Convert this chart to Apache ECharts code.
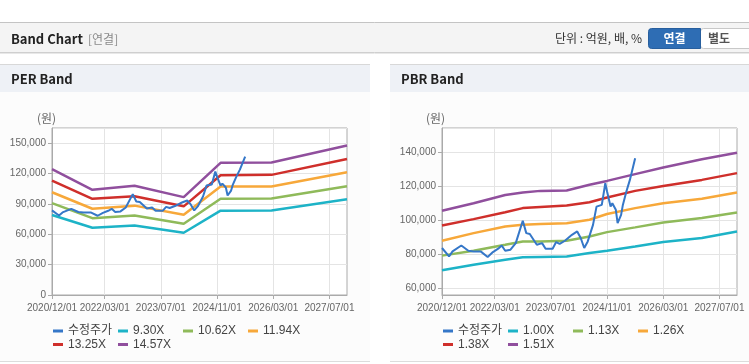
<!DOCTYPE html>
<html><head><meta charset="utf-8">
<script src="https://cdn.jsdelivr.net/npm/echarts@6/dist/echarts.min.js"></script>
<style>html,body{margin:0;padding:0;background:#fff}#c{width:749px;height:364px}</style>
</head><body><div id="c"></div>
<script>
// ---- categories (half-monthly dates, 2020/12/01 .. 2027/12/01)
const dates = [];
for (let i = 0; i < 169; i++) {
  const total = 2020 * 12 + 11 + Math.floor(i / 2);
  const y = Math.floor(total / 12), mo = total % 12 + 1;
  dates.push(y + '/' + String(mo).padStart(2, '0') + '/' + (i % 2 ? '16' : '01'));
}
const xLabelDates = ['2020/12/01','2022/03/01','2023/07/01','2024/11/01','2026/03/01','2027/07/01'];

// ---- adjusted price (수정주가)
const priceDates = ['2020/12/01','2021/02/01','2021/03/01','2021/05/16','2021/07/16','2021/09/01','2021/11/01',
  '2022/01/01','2022/02/16','2022/04/01','2022/05/01','2022/06/01','2022/07/16','2022/09/01','2022/11/01',
  '2022/12/01','2023/01/01','2023/03/01','2023/04/16','2023/05/16','2023/07/16','2023/08/16','2023/09/16',
  '2023/11/01','2024/01/01','2024/02/16','2024/03/16','2024/04/16','2024/05/16','2024/07/01','2024/08/01',
  '2024/09/16','2024/10/01','2024/10/16','2024/11/01','2024/12/01','2024/12/16','2025/01/16','2025/02/01',
  '2025/03/01','2025/03/16','2025/04/16','2025/05/16','2025/07/01'];
const priceValues = [83600,78600,81600,85100,82000,81600,81600,
  78300,81200,83200,85100,82000,82600,86500,99700,
  92400,91900,85500,86500,83200,83200,87100,86000,
  87900,91400,93400,89500,83600,87500,97300,108100,
  109100,109600,121900,117000,108100,110100,106200,98300,
  103200,109100,117000,123900,136700];

// ---- PER band
const perNames = ['9.30X','10.62X','11.94X','13.25X','14.57X'];
const perDates = ['2020/12/01','2021/11/16','2022/11/16','2024/01/16','2024/12/01','2026/02/16','2027/12/01'];
const per930  = [79000, 66500, 68700, 61500, 83300, 83500, 94500];
const per1062 = [90700, 75900, 78600, 70400, 95100, 95300, 107500];
const per1194 = [101500, 85200, 88300, 79200, 107100, 107300, 121300];
const per1325 = [113100, 95000, 97600, 87600, 118300, 118700, 134300];
const per1457 = [124300, 103900, 107900, 96700, 130600, 130900, 147800];

// ---- PBR band
const pbrNames = ['1.00X','1.13X','1.26X','1.38X','1.51X'];
const pbrDates = ['2020/12/01','2021/09/01','2022/06/01','2022/11/01','2023/04/01','2023/11/16',
  '2024/06/01','2024/11/01','2025/07/01','2026/03/01','2027/02/01','2027/12/01'];
const pbr100 = [70400, 73700, 76700, 78100, 78300, 78600, 80600, 82000, 84500, 87100, 89500, 93400];
const pbr113 = [79100, 82000, 85500, 87500, 87500, 87900, 90400, 93000, 95800, 98700, 101300, 104600];
const pbr126 = [87900, 92400, 96300, 97300, 97800, 98300, 100300, 103700, 107200, 110100, 112700, 116400];
const pbr138 = [96900, 100700, 104800, 107200, 107800, 108700, 110700, 113500, 117400, 120300, 123900, 127900];
const pbr151 = [105600, 110100, 115000, 116400, 117400, 117600, 121000, 123300, 127300, 131200, 136100, 140000];

const bandColors = ['#1db3c7','#8fba5a','#f7a83a','#cf2f2b','#904f9d'];
const priceColor = '#3577c8';
const FONT = '"Liberation Sans","Noto Sans CJK KR",sans-serif';
const KFONT = '"Noto Sans CJK KR","Liberation Sans",sans-serif';

const labelIdx = new Set(xLabelDates.map(d => dates.indexOf(d)));
const showIdx = (i) => labelIdx.has(i);
const pair = (ds, vs) => ds.map((d, i) => [d, vs[i]]);

function xAxis(gi) {
  return {
    type: 'category', gridIndex: gi, data: dates, boundaryGap: false,
    axisLine: { lineStyle: { color: '#aaa' } },
    axisTick: { show: true, interval: showIdx, length: 4, lineStyle: { color: '#aaa' } },
    axisLabel: { interval: showIdx, color: '#666', fontSize: 10, fontFamily: FONT, margin: 8, hideOverlap: false },
    splitLine: { show: true, interval: showIdx, lineStyle: { color: '#e4e4e4' } }
  };
}
function yAxis(gi, extra) {
  return Object.assign({
    type: 'value', gridIndex: gi,
    axisLine: { show: true, lineStyle: { color: '#aaa' } },
    axisTick: { show: true, length: 4, lineStyle: { color: '#aaa' } },
    axisLabel: { color: '#666', fontSize: 10, fontFamily: FONT, margin: 6, showMaxLabel: false },
    splitLine: { show: true, lineStyle: { color: '#e4e4e4' } }
  }, extra);
}

const series = [];
const perVals = [per930, per1062, per1194, per1325, per1457];
const pbrVals = [pbr100, pbr113, pbr126, pbr138, pbr151];
perNames.forEach((n, i) => series.push({ name: n, type: 'line', xAxisIndex: 0, yAxisIndex: 0,
  data: pair(perDates, perVals[i]), symbol: 'none', lineStyle: { width: 2.5, color: bandColors[i] }, itemStyle: { color: bandColors[i] } }));
series.push({ name: '수정주가', type: 'line', xAxisIndex: 0, yAxisIndex: 0, z: 5,
  data: pair(priceDates, priceValues), symbol: 'none', lineStyle: { width: 2, color: priceColor }, itemStyle: { color: priceColor } });
pbrNames.forEach((n, i) => series.push({ name: n, type: 'line', xAxisIndex: 1, yAxisIndex: 1,
  data: pair(pbrDates, pbrVals[i]), symbol: 'none', lineStyle: { width: 2.5, color: bandColors[i] }, itemStyle: { color: bandColors[i] } }));
series.push({ name: '수정주가', type: 'line', xAxisIndex: 1, yAxisIndex: 1, z: 5,
  data: pair(priceDates, priceValues), symbol: 'none', lineStyle: { width: 2, color: priceColor }, itemStyle: { color: priceColor } });

// legends: fixed grid of positions
function legendsFor(x0, names) {
  const all = ['수정주가'].concat(names);
  return all.map((n, i) => ({
    data: [{ name: n, icon: 'rect' }], selectedMode: false, padding: 0, itemGap: 0,
    itemWidth: 10, itemHeight: 3,
    left: x0 + (i % 4) * 65, top: 325 + Math.floor(i / 4) * 13.5,
    textStyle: { fontSize: 12, color: '#444', fontFamily: FONT }
  }));
}

const graphic = [
  // header bar
  { type: 'rect', shape: { x: 0, y: 22, width: 749, height: 31 }, style: { fill: '#f4f4f4' }, z: -10 },
  { type: 'line', shape: { x1: 0, y1: 22.5, x2: 749, y2: 22.5 }, style: { stroke: '#c4c4c4', lineWidth: 1 }, z: -9 },
  { type: 'line', shape: { x1: 0, y1: 52.5, x2: 749, y2: 52.5 }, style: { stroke: '#cfcfcf', lineWidth: 1 }, z: -9 },
  { type: 'line', shape: { x1: 0, y1: 53.5, x2: 749, y2: 53.5 }, style: { stroke: '#e8e8e8', lineWidth: 1 }, z: -9 },
  { type: 'text', style: { x: 11, y: 39, text: 'Band Chart', font: 'bold 13px ' + KFONT, fill: '#222', verticalAlign: 'middle' }, z: 10 },
  { type: 'text', style: { x: 88, y: 39, text: '[연결]', font: '12px ' + KFONT, fill: '#8a8a8a', verticalAlign: 'middle' }, z: 10 },
  { type: 'text', style: { x: 642, y: 38, text: '단위 : 억원, 배, %', font: '12px ' + KFONT, fill: '#333', align: 'right', verticalAlign: 'middle' }, z: 10 },
  { type: 'rect', shape: { x: 700.5, y: 28.5, width: 52, height: 20, r: 3 }, style: { fill: '#fff', stroke: '#c8c8c8' }, z: 8 },
  { type: 'rect', shape: { x: 648.5, y: 28.5, width: 52, height: 20, r: [3, 0, 0, 3] }, style: { fill: '#2e6db4', stroke: '#285f9e' }, z: 9 },
  { type: 'text', style: { x: 674.5, y: 38.5, text: '연결', font: 'bold 12px ' + KFONT, fill: '#fff', align: 'center', verticalAlign: 'middle' }, z: 10 },
  { type: 'text', style: { x: 719, y: 38.5, text: '별도', font: 'bold 12px ' + KFONT, fill: '#555', align: 'center', verticalAlign: 'middle' }, z: 10 },
  // panels
  { type: 'rect', shape: { x: 0, y: 64, width: 370, height: 298 }, style: { fill: '#fcfcfc' }, z: -10 },
  { type: 'rect', shape: { x: 390, y: 64, width: 359, height: 298 }, style: { fill: '#fcfcfc' }, z: -10 },
  { type: 'rect', shape: { x: 0, y: 64, width: 370, height: 28 }, style: { fill: '#eef1f6' }, z: -9 },
  { type: 'rect', shape: { x: 390, y: 64, width: 359, height: 28 }, style: { fill: '#eef1f6' }, z: -9 },
  { type: 'line', shape: { x1: 0, y1: 64.5, x2: 370, y2: 64.5 }, style: { stroke: '#d8d8d8' }, z: -8 },
  { type: 'line', shape: { x1: 390, y1: 64.5, x2: 749, y2: 64.5 }, style: { stroke: '#d8d8d8' }, z: -8 },
  { type: 'line', shape: { x1: 0, y1: 361.5, x2: 370, y2: 361.5 }, style: { stroke: '#dcdcdc' }, z: -8 },
  { type: 'line', shape: { x1: 390, y1: 361.5, x2: 749, y2: 361.5 }, style: { stroke: '#dcdcdc' }, z: -8 },
  { type: 'text', style: { x: 11, y: 79, text: 'PER Band', font: 'bold 13px ' + KFONT, fill: '#222', verticalAlign: 'middle' }, z: 10 },
  { type: 'text', style: { x: 401, y: 79, text: 'PBR Band', font: 'bold 13px ' + KFONT, fill: '#222', verticalAlign: 'middle' }, z: 10 },
  { type: 'text', style: { x: 37, y: 118, text: '(원)', font: '12px ' + KFONT, fill: '#666', verticalAlign: 'middle' }, z: 10 },
  { type: 'text', style: { x: 426, y: 118, text: '(원)', font: '12px ' + KFONT, fill: '#666', verticalAlign: 'middle' }, z: 10 }
];

const chart = echarts.init(document.getElementById('c'), null, { renderer: 'canvas' });
chart.setOption({
  animation: false,
  textStyle: { fontFamily: FONT },
  grid: [
    { left: 52, top: 128, width: 295, height: 167, show: true, borderColor: '#aaa', borderWidth: 1, backgroundColor: '#fff' },
    { left: 442, top: 128, width: 295, height: 167, show: true, borderColor: '#aaa', borderWidth: 1, backgroundColor: '#fff' }
  ],
  xAxis: [xAxis(0), xAxis(1)],
  yAxis: [
    yAxis(0, { min: 0, max: 165000, interval: 30000 }),
    yAxis(1, { min: 55800, max: 154600, splitNumber: 5, axisLabel: { color: '#666', fontSize: 10, fontFamily: FONT, margin: 6, showMaxLabel: false, showMinLabel: false } })
  ],
  legend: legendsFor(53, perNames).concat(legendsFor(443, pbrNames)),
  graphic: graphic,
  series: series
});
</script></body></html>
